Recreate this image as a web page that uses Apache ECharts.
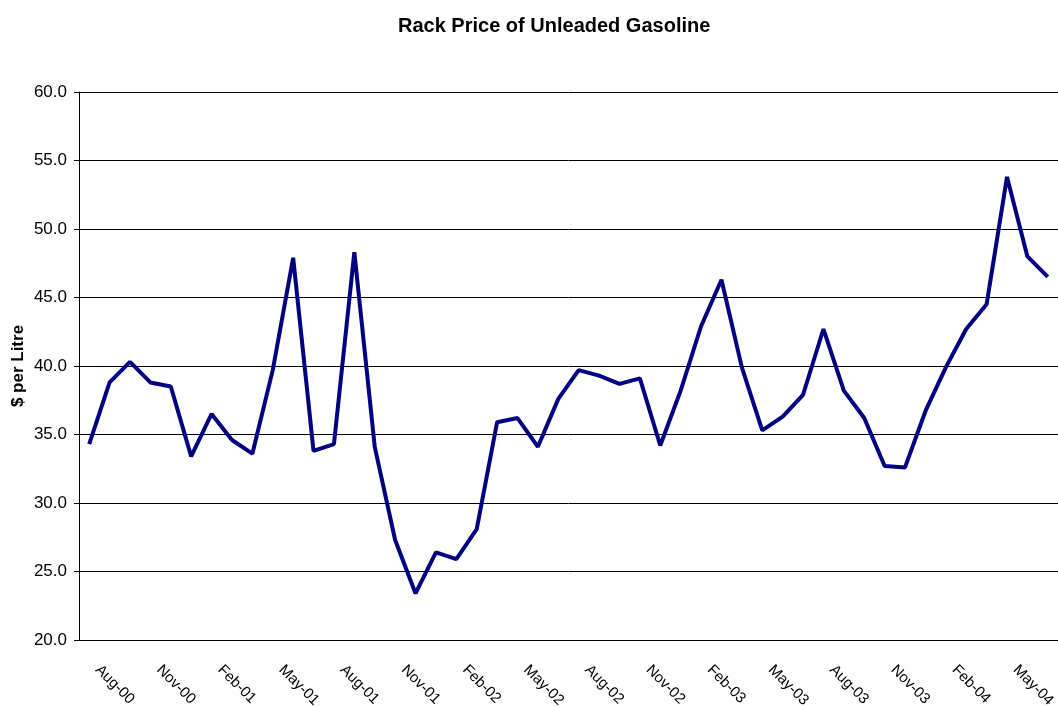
<!DOCTYPE html>
<html>
<head>
<meta charset="utf-8">
<script src="https://cdn.jsdelivr.net/npm/echarts@6/dist/echarts.min.js"></script>
<style>
  html, body { margin: 0; padding: 0; background: #fff; }
  #main { width: 1058px; height: 707px; }
</style>
</head>
<body>
<div id="main"></div>
<script>
// months Aug-00 .. Jul-04
var months = ['Aug-00', 'Sep-00', 'Oct-00', 'Nov-00', 'Dec-00', 'Jan-01', 'Feb-01', 'Mar-01',
	'Apr-01', 'May-01', 'Jun-01', 'Jul-01', 'Aug-01', 'Sep-01', 'Oct-01', 'Nov-01',
	'Dec-01', 'Jan-02', 'Feb-02', 'Mar-02', 'Apr-02', 'May-02', 'Jun-02', 'Jul-02',
	'Aug-02', 'Sep-02', 'Oct-02', 'Nov-02', 'Dec-02', 'Jan-03', 'Feb-03', 'Mar-03',
	'Apr-03', 'May-03', 'Jun-03', 'Jul-03', 'Aug-03', 'Sep-03', 'Oct-03', 'Nov-03',
	'Dec-03', 'Jan-04', 'Feb-04', 'Mar-04', 'Apr-04', 'May-04', 'Jun-04', 'Jul-04'];

// rack price, cents per litre
var price = [34.3, 38.8, 40.3, 38.8, 38.5, 33.4, 36.5, 34.6,
	33.6, 39.7, 47.9, 33.8, 34.3, 48.3, 34.1, 27.3,
	23.4, 26.4, 25.9, 28.1, 35.9, 36.2, 34.1, 37.6,
	39.7, 39.3, 38.7, 39.1, 34.2, 38.2, 42.9, 46.3,
	39.9, 35.3, 36.3, 37.9, 42.7, 38.2, 36.2, 32.7,
	32.6, 36.7, 39.9, 42.7, 44.5, 53.8, 48.0, 46.5];

var yTicks = [20, 25, 30, 35, 40, 45, 50, 55, 60];

function rackPrice(){
	var myCharts = echarts.init(document.getElementById('main'));
	var option = {
		animation: false,
		title: {
			text: 'Rack Price of Unleaded Gasoline',
			left: 393,
			top: 11,
			textStyle: {
				fontFamily: 'Liberation Sans, Arial',
				fontSize: 20,
				fontWeight: 'bold',
				color: '#000'
			}
		},
		grid: {
			left: 79,
			right: 0,
			top: 92,
			bottom: 67,
			outerBoundsMode: 'none'
		},
		xAxis: {
			type: 'category',
			data: months,
			boundaryGap: true,
			axisLine: { lineStyle: { color: '#000', width: 1 } },
			axisTick: {
				interval: 2,
				length: 5,
				lineStyle: { color: '#000' }
			},
			axisLabel: {
				interval: 2,
				rotate: -45,
				margin: 19,
				padding: [0, 0, 0, 12],
				fontFamily: 'Liberation Sans, Arial',
				fontSize: 15,
				color: '#000'
			},
			splitLine: { show: false }
		},
		yAxis: {
			type: 'value',
			name: '$ per Litre',
			nameLocation: 'middle',
			nameGap: 52,
			nameMoveOverlap: false,
			nameTextStyle: {
				fontFamily: 'Liberation Sans, Arial',
				fontSize: 17,
				fontWeight: 'bold',
				color: '#000'
			},
			min: yTicks[0],
			max: yTicks[yTicks.length - 1],
			interval: 5,
			axisLine: { show: true, lineStyle: { color: '#000', width: 1 } },
			axisTick: { show: true, length: 5, lineStyle: { color: '#000' } },
			axisLabel: {
				margin: 12,
				fontFamily: 'Liberation Sans, Arial',
				fontSize: 17,
				color: '#000',
				formatter: function (v) { return v.toFixed(1); }
			},
			splitLine: { lineStyle: { color: '#000', width: 1 } }
		},
		series: [
			{
				name: 'Rack Price',
				type: 'line',
				data: price,
				symbol: 'none',
				lineStyle: { color: '#000080', width: 4 },
				itemStyle: { color: '#000080' }
			}
		]
	};
	myCharts.setOption(option);
}

rackPrice();
</script>
</body>
</html>
